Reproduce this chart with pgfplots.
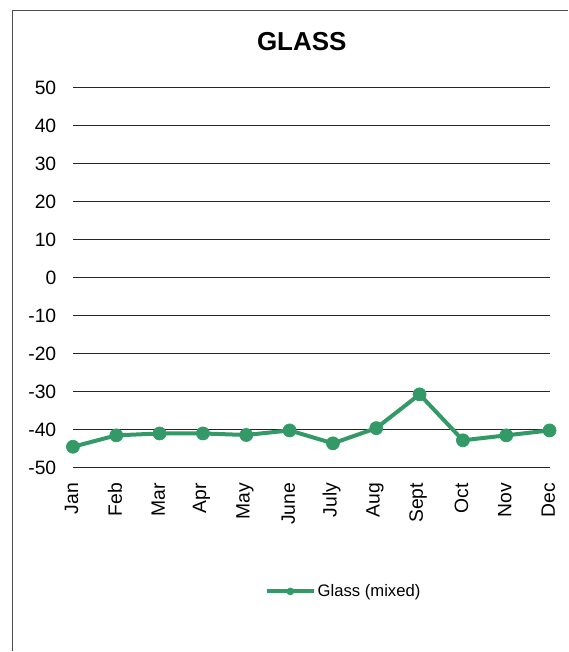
\documentclass[border=0pt]{standalone}
\usepackage{fontspec}
\setmainfont{Liberation Sans}
\usepackage{pgfplots}
\pgfplotsset{compat=1.18}

\definecolor{glassgreen}{RGB}{51,153,102}

\begin{document}
\begin{tikzpicture}[x=0.75pt,y=0.75pt]
  % page size in px (1px = 0.75pt)
  \path (0,0) rectangle (568,652);
  \draw[black!70, line width=0.75pt] (13,0) -- (13,641) -- (568,641);
  \node[font=\fontsize{19.5}{20}\selectfont\bfseries] at (302,610) {GLASS};

  \begin{axis}[
    at={(54.75pt,138pt)}, anchor=south west,
    scale only axis,
    width=357.75pt, height=285pt,
    xmin=0, xmax=11,
    ymin=-50, ymax=50,
    ytick={-50,-40,...,50},
    xtick={0,...,11},
    xticklabels={Jan,Feb,Mar,Apr,May,June,July,Aug,Sept,Oct,Nov,Dec},
    axis line style={draw=none},
    major tick length=0pt,
    ymajorgrids,
    major grid style={black!85, line width=0.75pt},
    /pgf/number format/assume math mode=true,
    tick label style={font=\fontsize{14.5}{15}\selectfont},
    yticklabel style={anchor=east, xshift=-9pt},
    xticklabel style={rotate=90, anchor=east, yshift=1pt, xshift=-8pt},
    clip=false,
    legend style={draw=none, fill=none, at={(axis description cs:0.4025,-0.326)},
      anchor=west, inner sep=0pt, font=\fontsize{12.5}{13}\selectfont,
      nodes={inner sep=1.5pt}},
    legend image code/.code={
      \draw[line width=3pt, mark=none] (0pt,0pt) -- (35pt,0pt);
      \draw[mark size=2.6pt, line width=0.5pt] plot coordinates {(17.5pt,0pt)};
    },
  ]
    \addplot[color=glassgreen, line width=3pt, mark=*, mark size=4.9pt,
      mark options={solid, fill=glassgreen, draw=glassgreen, line width=0.5pt}]
      coordinates {
        (0,-44.5) (1,-41.5) (2,-41.0) (3,-41.0) (4,-41.4) (5,-40.2)
        (6,-43.6) (7,-39.6) (8,-30.7) (9,-42.8) (10,-41.5) (11,-40.2)
      };
    \legend{Glass (mixed)}
  \end{axis}
\end{tikzpicture}
\end{document}
